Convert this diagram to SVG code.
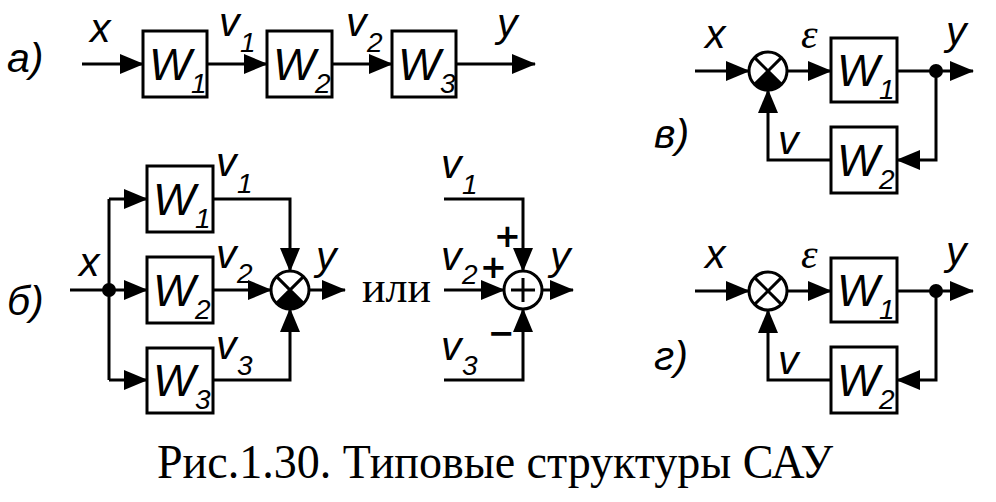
<svg xmlns="http://www.w3.org/2000/svg" width="996" height="502" viewBox="0 0 996 502">
<defs>
<style>
.ln{fill:none;stroke:#000;stroke-width:3}
.bx{fill:#fff;stroke:#000;stroke-width:3}
.a{marker-end:url(#arr)}
.lab{font-family:"Liberation Sans",Arial,sans-serif;font-style:italic;font-size:41px}
.W{font-family:"Liberation Sans",Arial,sans-serif;font-style:italic;font-size:45px}
.sub{font-family:"Liberation Sans",Arial,sans-serif;font-style:italic;font-size:28px}
.eps{font-family:"Liberation Serif","Times New Roman",serif;font-style:italic;font-size:42px}
.pm{font-family:"DejaVu Sans",sans-serif;font-weight:bold;font-size:32px}
.ser{font-family:"Liberation Serif","Times New Roman",serif}
</style>
<marker id="arr" viewBox="0 0 24 20" refX="23" refY="10" markerWidth="24" markerHeight="20" markerUnits="userSpaceOnUse" orient="auto">
<path d="M0,0 L24,10 L0,20 z" fill="#000"/>
</marker>
</defs>
<rect width="996" height="502" fill="#fff"/>

<g id="connectors">
<!-- a -->
<path class="ln a" d="M82,64 H143"/>
<path class="ln a" d="M207,64 H267"/>
<path class="ln a" d="M332,64 H392"/>
<path class="ln a" d="M456,64 H535"/>
<!-- b -->
<path class="ln" d="M70,290 H109"/>
<path class="ln" d="M109,199 V380"/>
<path class="ln a" d="M109,199 H147"/>
<path class="ln a" d="M109,290 H147"/>
<path class="ln a" d="M109,380 H147"/>
<path class="ln a" d="M213,199 H290 V271"/>
<path class="ln a" d="M213,290 H271"/>
<path class="ln a" d="M213,380 H290 V309"/>
<path class="ln a" d="M309,290 H345"/>
<!-- or -->
<path class="ln a" d="M444,199 H523 V271"/>
<path class="ln a" d="M444,290 H504"/>
<path class="ln a" d="M444,380 H523 V309"/>
<path class="ln a" d="M542,290 H573"/>
<!-- v -->
<path class="ln a" d="M695,71 H749"/>
<path class="ln a" d="M787,71 H831"/>
<path class="ln a" d="M897,71 H973"/>
<path class="ln a" d="M936,71 V160 H897"/>
<path class="ln a" d="M831,160 H768 V90"/>
<!-- g -->
<path class="ln a" d="M695,291 H749"/>
<path class="ln a" d="M787,291 H831"/>
<path class="ln a" d="M897,291 H973"/>
<path class="ln a" d="M936,291 V380 H897"/>
<path class="ln a" d="M831,380 H768 V310"/>
</g>

<g id="nodes-a">
<g id="a-W1"><rect class="bx" x="143" y="31" width="64" height="66"/><text class="W" x="149" y="80">W</text><text class="sub" x="191" y="93">1</text></g>
<g id="a-W2"><rect class="bx" x="267" y="31" width="65" height="66"/><text class="W" x="273" y="80">W</text><text class="sub" x="315" y="93">2</text></g>
<g id="a-W3"><rect class="bx" x="392" y="31" width="64" height="66"/><text class="W" x="398" y="80">W</text><text class="sub" x="440" y="93">3</text></g>
</g>

<g id="nodes-b">
<g id="b-W1"><rect class="bx" x="147" y="166" width="66" height="66"/><text class="W" x="153" y="215">W</text><text class="sub" x="195" y="228">1</text></g>
<g id="b-W2"><rect class="bx" x="147" y="257" width="66" height="66"/><text class="W" x="153" y="306">W</text><text class="sub" x="195" y="319">2</text></g>
<g id="b-W3"><rect class="bx" x="147" y="348" width="66" height="65"/><text class="W" x="153" y="396">W</text><text class="sub" x="195" y="409">3</text></g>
<g id="b-node"><circle cx="109" cy="290" r="7" fill="#000"/></g>
<g id="b-sum">
<circle cx="290" cy="290" r="19" fill="#fff" stroke="#000" stroke-width="3"/>
<path d="M290,290 L303.4,303.4 A19,19 0 0 1 276.6,303.4 Z" fill="#000"/>
<path class="ln" d="M276.6,276.6 L303.4,303.4 M303.4,276.6 L276.6,303.4"/>
</g>
</g>

<g id="nodes-or">
<g id="or-sum">
<circle cx="523" cy="290" r="19" fill="#fff" stroke="#000" stroke-width="3"/>
<path class="ln" d="M511,290 H535 M523,278 V302"/>
</g>
</g>

<g id="nodes-v">
<g id="v-sum">
<circle cx="768" cy="71" r="19" fill="#fff" stroke="#000" stroke-width="3"/>
<path d="M768,71 L781.4,84.4 A19,19 0 0 1 754.6,84.4 Z" fill="#000"/>
<path class="ln" d="M754.6,57.6 L781.4,84.4 M781.4,57.6 L754.6,84.4"/>
</g>
<g id="v-W1"><rect class="bx" x="831" y="38" width="66" height="64"/><text class="W" x="837" y="86">W</text><text class="sub" x="879" y="99">1</text></g>
<g id="v-W2"><rect class="bx" x="831" y="127" width="66" height="66"/><text class="W" x="837" y="176">W</text><text class="sub" x="879" y="189">2</text></g>
<g id="v-node"><circle cx="936" cy="71" r="7" fill="#000"/></g>
</g>

<g id="nodes-g">
<g id="g-sum">
<circle cx="768" cy="291" r="19" fill="#fff" stroke="#000" stroke-width="3"/>
<path class="ln" d="M754.6,277.6 L781.4,304.4 M781.4,277.6 L754.6,304.4"/>
</g>
<g id="g-W1"><rect class="bx" x="831" y="258" width="66" height="64"/><text class="W" x="837" y="306">W</text><text class="sub" x="879" y="319">1</text></g>
<g id="g-W2"><rect class="bx" x="831" y="347" width="66" height="66"/><text class="W" x="837" y="396">W</text><text class="sub" x="879" y="409">2</text></g>
<g id="g-node"><circle cx="936" cy="291" r="7" fill="#000"/></g>
</g>

<g id="labels">
<text class="lab" x="7" y="72">а)</text>
<text class="lab" x="90" y="42">x</text>
<text class="lab" x="219" y="36">v</text><text class="sub" x="240" y="52">1</text>
<text class="lab" x="346" y="36">v</text><text class="sub" x="367" y="52">2</text>
<text class="lab" x="497" y="37">y</text>

<text class="lab" x="7" y="315">б)</text>
<text class="lab" x="79" y="276">x</text>
<text class="lab" x="216" y="176">v</text><text class="sub" x="237" y="193">1</text>
<text class="lab" x="216" y="268">v</text><text class="sub" x="237" y="283">2</text>
<text class="lab" x="216" y="359">v</text><text class="sub" x="237" y="375">3</text>
<text class="lab" x="316" y="270">y</text>

<text class="ser" x="362" y="302" font-size="44">или</text>
<text class="lab" x="441" y="178">v</text><text class="sub" x="462" y="194">1</text>
<text class="lab" x="441" y="270">v</text><text class="sub" x="462" y="284">2</text>
<text class="lab" x="441" y="360">v</text><text class="sub" x="462" y="375">3</text>
<text class="lab" x="550" y="270">y</text>
<text class="pm" x="494" y="247">+</text>
<text class="pm" x="480" y="278">+</text>
<text class="pm" x="488" y="344">−</text>

<text class="lab" x="654" y="148">в)</text>
<text class="lab" x="705" y="48">x</text>
<text class="eps" x="801" y="48">ε</text>
<text class="lab" x="946" y="45">y</text>
<text class="lab" x="778" y="154">v</text>

<text class="lab" x="654" y="370">г)</text>
<text class="lab" x="705" y="268">x</text>
<text class="eps" x="801" y="268">ε</text>
<text class="lab" x="946" y="265">y</text>
<text class="lab" x="778" y="374">v</text>

<text class="ser" x="157" y="478" font-size="48" textLength="676" lengthAdjust="spacingAndGlyphs">Рис.1.30. Типовые структуры САУ</text>
</g>
</svg>
